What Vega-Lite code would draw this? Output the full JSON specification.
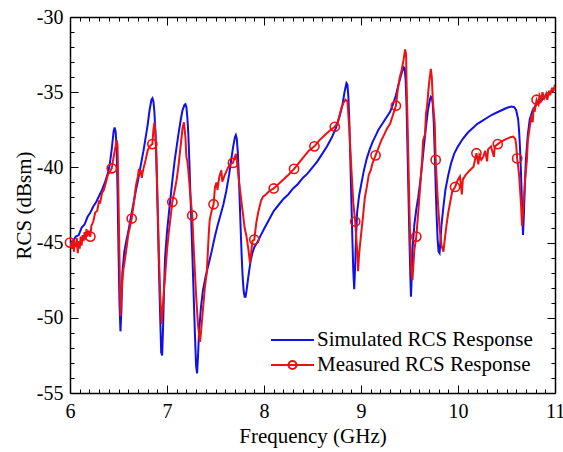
{
  "$schema": "https://vega.github.io/schema/vega-lite/v6.json",
  "width": 485,
  "height": 376,
  "autosize": {"type": "none"},
  "padding": {"left": 70, "top": 17, "right": 8, "bottom": 59},
  "background": "white",
  "config": {
    "view": {"stroke": null},
    "axis": {
      "domainColor": "black",
      "domainWidth": 1.5,
      "tickColor": "black",
      "tickWidth": 1,
      "labelFont": "Times New Roman, Liberation Serif, DejaVu Serif, serif",
      "labelFontSize": 20,
      "labelColor": "black",
      "titleFont": "Times New Roman, Liberation Serif, DejaVu Serif, serif",
      "titleFontSize": 21,
      "titleFontWeight": "normal",
      "titleColor": "black",
      "grid": false
    }
  },
  "datasets": {
    "sim": [
      {"f": 6.00, "rcs": -45.0}, {"f": 6.03, "rcs": -44.9}, {"f": 6.06, "rcs": -44.6}, {"f": 6.09, "rcs": -44.5},
      {"f": 6.12, "rcs": -44.0}, {"f": 6.15, "rcs": -43.8}, {"f": 6.18, "rcs": -43.3}, {"f": 6.21, "rcs": -43.0},
      {"f": 6.24, "rcs": -42.6}, {"f": 6.27, "rcs": -42.3}, {"f": 6.30, "rcs": -41.9}, {"f": 6.33, "rcs": -41.5},
      {"f": 6.36, "rcs": -41.0}, {"f": 6.39, "rcs": -40.4}, {"f": 6.41, "rcs": -39.8}, {"f": 6.43, "rcs": -38.8},
      {"f": 6.45, "rcs": -37.6}, {"f": 6.46, "rcs": -37.35}, {"f": 6.47, "rcs": -37.6}, {"f": 6.48, "rcs": -38.6},
      {"f": 6.49, "rcs": -41.5}, {"f": 6.50, "rcs": -45.5}, {"f": 6.51, "rcs": -49.0}, {"f": 6.52, "rcs": -50.9},
      {"f": 6.53, "rcs": -49.5}, {"f": 6.54, "rcs": -47.0}, {"f": 6.56, "rcs": -45.6}, {"f": 6.58, "rcs": -44.9},
      {"f": 6.60, "rcs": -44.3}, {"f": 6.62, "rcs": -43.6}, {"f": 6.64, "rcs": -42.9}, {"f": 6.66, "rcs": -42.2},
      {"f": 6.68, "rcs": -41.5}, {"f": 6.70, "rcs": -40.9}, {"f": 6.72, "rcs": -40.2}, {"f": 6.74, "rcs": -39.5},
      {"f": 6.76, "rcs": -38.8}, {"f": 6.78, "rcs": -38.0}, {"f": 6.80, "rcs": -37.2}, {"f": 6.82, "rcs": -36.2},
      {"f": 6.84, "rcs": -35.5}, {"f": 6.85, "rcs": -35.4}, {"f": 6.86, "rcs": -35.6}, {"f": 6.87, "rcs": -36.3},
      {"f": 6.88, "rcs": -37.6}, {"f": 6.89, "rcs": -39.5}, {"f": 6.90, "rcs": -42.0}, {"f": 6.91, "rcs": -44.8},
      {"f": 6.92, "rcs": -47.5}, {"f": 6.93, "rcs": -50.0}, {"f": 6.94, "rcs": -52.3}, {"f": 6.95, "rcs": -52.5},
      {"f": 6.96, "rcs": -50.5}, {"f": 6.97, "rcs": -48.0}, {"f": 6.98, "rcs": -46.0}, {"f": 7.00, "rcs": -44.3},
      {"f": 7.02, "rcs": -43.0}, {"f": 7.04, "rcs": -41.8}, {"f": 7.06, "rcs": -40.6}, {"f": 7.08, "rcs": -39.5},
      {"f": 7.10, "rcs": -38.6}, {"f": 7.12, "rcs": -37.7}, {"f": 7.14, "rcs": -36.9}, {"f": 7.16, "rcs": -36.2},
      {"f": 7.18, "rcs": -35.85}, {"f": 7.19, "rcs": -35.8}, {"f": 7.20, "rcs": -36.0}, {"f": 7.21, "rcs": -36.7},
      {"f": 7.22, "rcs": -37.8}, {"f": 7.23, "rcs": -39.5}, {"f": 7.24, "rcs": -41.5}, {"f": 7.25, "rcs": -43.5},
      {"f": 7.26, "rcs": -45.5}, {"f": 7.27, "rcs": -47.5}, {"f": 7.28, "rcs": -49.5}, {"f": 7.29, "rcs": -51.5},
      {"f": 7.30, "rcs": -53.2}, {"f": 7.31, "rcs": -53.7}, {"f": 7.32, "rcs": -52.5}, {"f": 7.33, "rcs": -51.0},
      {"f": 7.35, "rcs": -49.3}, {"f": 7.37, "rcs": -48.2}, {"f": 7.40, "rcs": -47.2}, {"f": 7.43, "rcs": -46.4},
      {"f": 7.46, "rcs": -45.6}, {"f": 7.49, "rcs": -44.7}, {"f": 7.52, "rcs": -43.9}, {"f": 7.55, "rcs": -43.2},
      {"f": 7.58, "rcs": -42.5}, {"f": 7.61, "rcs": -41.6}, {"f": 7.64, "rcs": -40.5}, {"f": 7.66, "rcs": -39.6},
      {"f": 7.68, "rcs": -38.7}, {"f": 7.70, "rcs": -38.0}, {"f": 7.71, "rcs": -37.85}, {"f": 7.72, "rcs": -38.1},
      {"f": 7.73, "rcs": -39.0}, {"f": 7.74, "rcs": -40.5}, {"f": 7.75, "rcs": -42.3}, {"f": 7.76, "rcs": -44.2},
      {"f": 7.77, "rcs": -45.9}, {"f": 7.78, "rcs": -47.3}, {"f": 7.79, "rcs": -48.2}, {"f": 7.80, "rcs": -48.6},
      {"f": 7.81, "rcs": -48.6}, {"f": 7.82, "rcs": -48.2}, {"f": 7.84, "rcs": -47.2}, {"f": 7.86, "rcs": -46.3},
      {"f": 7.88, "rcs": -45.7}, {"f": 7.90, "rcs": -45.3}, {"f": 7.93, "rcs": -45.0}, {"f": 7.96, "rcs": -44.6},
      {"f": 8.00, "rcs": -44.1}, {"f": 8.05, "rcs": -43.5}, {"f": 8.10, "rcs": -42.9}, {"f": 8.15, "rcs": -42.5},
      {"f": 8.20, "rcs": -42.1}, {"f": 8.25, "rcs": -41.8}, {"f": 8.30, "rcs": -41.4}, {"f": 8.35, "rcs": -41.1},
      {"f": 8.40, "rcs": -40.7}, {"f": 8.45, "rcs": -40.4}, {"f": 8.50, "rcs": -40.0}, {"f": 8.55, "rcs": -39.6},
      {"f": 8.60, "rcs": -39.1}, {"f": 8.65, "rcs": -38.6}, {"f": 8.70, "rcs": -38.0}, {"f": 8.74, "rcs": -37.4},
      {"f": 8.78, "rcs": -36.6}, {"f": 8.81, "rcs": -35.8}, {"f": 8.83, "rcs": -35.0}, {"f": 8.85, "rcs": -34.4},
      {"f": 8.86, "rcs": -34.5}, {"f": 8.87, "rcs": -35.3}, {"f": 8.88, "rcs": -37.0}, {"f": 8.89, "rcs": -39.5},
      {"f": 8.90, "rcs": -42.0}, {"f": 8.91, "rcs": -44.5}, {"f": 8.92, "rcs": -46.8}, {"f": 8.93, "rcs": -48.1},
      {"f": 8.94, "rcs": -46.5}, {"f": 8.95, "rcs": -44.5}, {"f": 8.96, "rcs": -43.0}, {"f": 8.98, "rcs": -41.9},
      {"f": 9.00, "rcs": -41.2}, {"f": 9.03, "rcs": -40.2}, {"f": 9.06, "rcs": -39.4}, {"f": 9.09, "rcs": -38.8},
      {"f": 9.12, "rcs": -38.3}, {"f": 9.15, "rcs": -37.9}, {"f": 9.18, "rcs": -37.5}, {"f": 9.21, "rcs": -37.2},
      {"f": 9.24, "rcs": -36.9}, {"f": 9.27, "rcs": -36.6}, {"f": 9.30, "rcs": -36.3}, {"f": 9.33, "rcs": -35.8},
      {"f": 9.36, "rcs": -35.2}, {"f": 9.39, "rcs": -34.4}, {"f": 9.42, "rcs": -33.7}, {"f": 9.44, "rcs": -33.35},
      {"f": 9.45, "rcs": -33.4}, {"f": 9.46, "rcs": -34.2}, {"f": 9.47, "rcs": -36.0}, {"f": 9.48, "rcs": -39.0},
      {"f": 9.49, "rcs": -42.0}, {"f": 9.50, "rcs": -45.0}, {"f": 9.51, "rcs": -47.5}, {"f": 9.515, "rcs": -48.6},
      {"f": 9.52, "rcs": -47.8}, {"f": 9.53, "rcs": -45.5}, {"f": 9.55, "rcs": -43.8}, {"f": 9.57, "rcs": -42.8},
      {"f": 9.59, "rcs": -42.0}, {"f": 9.61, "rcs": -41.0}, {"f": 9.63, "rcs": -39.8}, {"f": 9.65, "rcs": -38.5},
      {"f": 9.67, "rcs": -37.3}, {"f": 9.69, "rcs": -36.2}, {"f": 9.71, "rcs": -35.5}, {"f": 9.72, "rcs": -35.3},
      {"f": 9.73, "rcs": -35.35}, {"f": 9.74, "rcs": -35.8}, {"f": 9.75, "rcs": -37.0}, {"f": 9.76, "rcs": -39.0},
      {"f": 9.77, "rcs": -41.3}, {"f": 9.78, "rcs": -43.3}, {"f": 9.79, "rcs": -44.8}, {"f": 9.80, "rcs": -45.6},
      {"f": 9.81, "rcs": -45.7}, {"f": 9.82, "rcs": -44.8}, {"f": 9.83, "rcs": -43.8}, {"f": 9.85, "rcs": -42.6},
      {"f": 9.87, "rcs": -41.5}, {"f": 9.90, "rcs": -40.5}, {"f": 9.93, "rcs": -39.7}, {"f": 9.96, "rcs": -39.1},
      {"f": 10.00, "rcs": -38.6}, {"f": 10.05, "rcs": -38.1}, {"f": 10.10, "rcs": -37.7}, {"f": 10.15, "rcs": -37.4},
      {"f": 10.20, "rcs": -37.1}, {"f": 10.25, "rcs": -36.9}, {"f": 10.30, "rcs": -36.7}, {"f": 10.35, "rcs": -36.5},
      {"f": 10.40, "rcs": -36.35}, {"f": 10.45, "rcs": -36.2}, {"f": 10.50, "rcs": -36.05}, {"f": 10.55, "rcs": -35.95},
      {"f": 10.58, "rcs": -36.0}, {"f": 10.60, "rcs": -36.2}, {"f": 10.62, "rcs": -36.8}, {"f": 10.63, "rcs": -37.6},
      {"f": 10.64, "rcs": -38.8}, {"f": 10.65, "rcs": -40.5}, {"f": 10.66, "rcs": -42.5}, {"f": 10.67, "rcs": -44.5},
      {"f": 10.68, "rcs": -43.0}, {"f": 10.69, "rcs": -41.0}, {"f": 10.70, "rcs": -39.5}, {"f": 10.72, "rcs": -37.8},
      {"f": 10.74, "rcs": -36.8}, {"f": 10.77, "rcs": -36.2}, {"f": 10.80, "rcs": -35.9}, {"f": 10.85, "rcs": -35.6},
      {"f": 10.90, "rcs": -35.3}, {"f": 10.95, "rcs": -35.0}, {"f": 11.00, "rcs": -34.7}
    ],
    "meas": [
      {"f": 6.00, "rcs": -45.0}, {"f": 6.02, "rcs": -45.4}, {"f": 6.03, "rcs": -44.8}, {"f": 6.04, "rcs": -45.6},
      {"f": 6.05, "rcs": -45.0}, {"f": 6.06, "rcs": -45.3}, {"f": 6.07, "rcs": -44.7}, {"f": 6.08, "rcs": -45.7},
      {"f": 6.09, "rcs": -44.9}, {"f": 6.10, "rcs": -45.4}, {"f": 6.11, "rcs": -44.6}, {"f": 6.12, "rcs": -45.2},
      {"f": 6.13, "rcs": -44.5}, {"f": 6.14, "rcs": -44.9}, {"f": 6.15, "rcs": -44.3}, {"f": 6.16, "rcs": -44.8},
      {"f": 6.17, "rcs": -44.1}, {"f": 6.18, "rcs": -44.6}, {"f": 6.19, "rcs": -44.2}, {"f": 6.21, "rcs": -44.6},
      {"f": 6.22, "rcs": -43.9}, {"f": 6.24, "rcs": -43.6}, {"f": 6.26, "rcs": -43.0}, {"f": 6.28, "rcs": -42.9},
      {"f": 6.30, "rcs": -42.2}, {"f": 6.31, "rcs": -42.4}, {"f": 6.33, "rcs": -41.7}, {"f": 6.35, "rcs": -41.5},
      {"f": 6.37, "rcs": -41.0}, {"f": 6.39, "rcs": -40.5}, {"f": 6.41, "rcs": -40.3}, {"f": 6.43, "rcs": -40.06},
      {"f": 6.45, "rcs": -39.3}, {"f": 6.47, "rcs": -38.6}, {"f": 6.48, "rcs": -38.2}, {"f": 6.49, "rcs": -38.5},
      {"f": 6.50, "rcs": -42.0}, {"f": 6.51, "rcs": -46.0}, {"f": 6.52, "rcs": -49.9}, {"f": 6.53, "rcs": -48.5},
      {"f": 6.54, "rcs": -47.5}, {"f": 6.55, "rcs": -46.8}, {"f": 6.56, "rcs": -46.4}, {"f": 6.58, "rcs": -45.5},
      {"f": 6.60, "rcs": -44.5}, {"f": 6.62, "rcs": -43.9}, {"f": 6.636, "rcs": -43.4}, {"f": 6.66, "rcs": -42.3},
      {"f": 6.68, "rcs": -41.2}, {"f": 6.70, "rcs": -40.6}, {"f": 6.71, "rcs": -40.1}, {"f": 6.72, "rcs": -40.5},
      {"f": 6.73, "rcs": -40.2}, {"f": 6.74, "rcs": -40.7}, {"f": 6.75, "rcs": -40.3}, {"f": 6.76, "rcs": -40.0},
      {"f": 6.78, "rcs": -39.5}, {"f": 6.80, "rcs": -38.9}, {"f": 6.82, "rcs": -38.6}, {"f": 6.849, "rcs": -38.45},
      {"f": 6.86, "rcs": -37.5}, {"f": 6.87, "rcs": -37.0}, {"f": 6.88, "rcs": -37.6}, {"f": 6.89, "rcs": -39.0},
      {"f": 6.90, "rcs": -41.5}, {"f": 6.91, "rcs": -44.0}, {"f": 6.92, "rcs": -46.5}, {"f": 6.93, "rcs": -48.5},
      {"f": 6.945, "rcs": -50.4}, {"f": 6.96, "rcs": -49.0}, {"f": 6.97, "rcs": -48.0}, {"f": 6.98, "rcs": -47.3},
      {"f": 7.00, "rcs": -45.5}, {"f": 7.02, "rcs": -44.2}, {"f": 7.03, "rcs": -43.7}, {"f": 7.055, "rcs": -42.3},
      {"f": 7.08, "rcs": -41.5}, {"f": 7.10, "rcs": -40.8}, {"f": 7.12, "rcs": -39.8}, {"f": 7.14, "rcs": -38.6},
      {"f": 7.16, "rcs": -37.4}, {"f": 7.175, "rcs": -37.0}, {"f": 7.19, "rcs": -38.0}, {"f": 7.20, "rcs": -39.3},
      {"f": 7.21, "rcs": -39.6}, {"f": 7.22, "rcs": -40.2}, {"f": 7.24, "rcs": -41.8}, {"f": 7.26, "rcs": -43.2},
      {"f": 7.28, "rcs": -46.0}, {"f": 7.30, "rcs": -48.5}, {"f": 7.32, "rcs": -50.5}, {"f": 7.34, "rcs": -51.6},
      {"f": 7.35, "rcs": -51.0}, {"f": 7.37, "rcs": -49.5}, {"f": 7.39, "rcs": -48.0}, {"f": 7.41, "rcs": -47.0},
      {"f": 7.43, "rcs": -44.5}, {"f": 7.44, "rcs": -43.5}, {"f": 7.46, "rcs": -42.9}, {"f": 7.48, "rcs": -42.45},
      {"f": 7.495, "rcs": -41.3}, {"f": 7.51, "rcs": -41.0}, {"f": 7.52, "rcs": -41.5}, {"f": 7.54, "rcs": -40.6},
      {"f": 7.56, "rcs": -40.2}, {"f": 7.57, "rcs": -40.95}, {"f": 7.59, "rcs": -40.6}, {"f": 7.61, "rcs": -40.3},
      {"f": 7.63, "rcs": -40.0}, {"f": 7.65, "rcs": -39.8}, {"f": 7.68, "rcs": -39.7}, {"f": 7.70, "rcs": -39.3},
      {"f": 7.71, "rcs": -39.1}, {"f": 7.72, "rcs": -39.5}, {"f": 7.74, "rcs": -40.8}, {"f": 7.77, "rcs": -42.4},
      {"f": 7.80, "rcs": -44.0}, {"f": 7.82, "rcs": -44.6}, {"f": 7.84, "rcs": -45.5}, {"f": 7.856, "rcs": -46.4},
      {"f": 7.87, "rcs": -45.5}, {"f": 7.88, "rcs": -44.9}, {"f": 7.90, "rcs": -44.8}, {"f": 7.92, "rcs": -43.7},
      {"f": 7.94, "rcs": -43.0}, {"f": 7.97, "rcs": -42.2}, {"f": 7.99, "rcs": -41.95}, {"f": 8.02, "rcs": -41.8},
      {"f": 8.05, "rcs": -41.6}, {"f": 8.10, "rcs": -41.4}, {"f": 8.15, "rcs": -41.1}, {"f": 8.20, "rcs": -40.8},
      {"f": 8.25, "rcs": -40.5}, {"f": 8.31, "rcs": -40.1}, {"f": 8.36, "rcs": -39.7}, {"f": 8.41, "rcs": -39.3},
      {"f": 8.46, "rcs": -38.9}, {"f": 8.52, "rcs": -38.6}, {"f": 8.57, "rcs": -38.2}, {"f": 8.62, "rcs": -37.9},
      {"f": 8.67, "rcs": -37.6}, {"f": 8.73, "rcs": -37.3}, {"f": 8.76, "rcs": -37.0}, {"f": 8.78, "rcs": -36.5},
      {"f": 8.80, "rcs": -36.0}, {"f": 8.82, "rcs": -35.7}, {"f": 8.84, "rcs": -35.5}, {"f": 8.86, "rcs": -35.6},
      {"f": 8.88, "rcs": -37.5}, {"f": 8.90, "rcs": -40.0}, {"f": 8.92, "rcs": -42.3}, {"f": 8.94, "rcs": -43.6},
      {"f": 8.96, "rcs": -45.5}, {"f": 8.97, "rcs": -46.9}, {"f": 8.98, "rcs": -45.8}, {"f": 9.00, "rcs": -44.5},
      {"f": 9.02, "rcs": -43.3}, {"f": 9.04, "rcs": -42.0}, {"f": 9.06, "rcs": -41.3}, {"f": 9.08, "rcs": -40.5},
      {"f": 9.10, "rcs": -40.2}, {"f": 9.12, "rcs": -39.7}, {"f": 9.15, "rcs": -39.2}, {"f": 9.18, "rcs": -38.7},
      {"f": 9.21, "rcs": -38.2}, {"f": 9.24, "rcs": -37.8}, {"f": 9.27, "rcs": -37.4}, {"f": 9.30, "rcs": -37.1},
      {"f": 9.33, "rcs": -36.5}, {"f": 9.36, "rcs": -35.9}, {"f": 9.38, "rcs": -34.8}, {"f": 9.40, "rcs": -34.0},
      {"f": 9.42, "rcs": -33.5}, {"f": 9.44, "rcs": -32.8}, {"f": 9.455, "rcs": -32.15}, {"f": 9.465, "rcs": -32.5},
      {"f": 9.47, "rcs": -34.5}, {"f": 9.48, "rcs": -37.0}, {"f": 9.49, "rcs": -40.0}, {"f": 9.50, "rcs": -43.0},
      {"f": 9.51, "rcs": -45.5}, {"f": 9.52, "rcs": -47.0}, {"f": 9.53, "rcs": -47.5}, {"f": 9.54, "rcs": -46.5},
      {"f": 9.55, "rcs": -45.5}, {"f": 9.57, "rcs": -44.6}, {"f": 9.59, "rcs": -43.0}, {"f": 9.61, "rcs": -41.3},
      {"f": 9.63, "rcs": -39.5}, {"f": 9.64, "rcs": -38.2}, {"f": 9.66, "rcs": -37.8}, {"f": 9.67, "rcs": -36.4},
      {"f": 9.68, "rcs": -36.0}, {"f": 9.70, "rcs": -34.5}, {"f": 9.72, "rcs": -33.45}, {"f": 9.73, "rcs": -34.0},
      {"f": 9.74, "rcs": -35.5}, {"f": 9.76, "rcs": -37.1}, {"f": 9.77, "rcs": -39.5}, {"f": 9.79, "rcs": -42.0},
      {"f": 9.81, "rcs": -44.0}, {"f": 9.83, "rcs": -45.2}, {"f": 9.85, "rcs": -45.6}, {"f": 9.86, "rcs": -45.0},
      {"f": 9.88, "rcs": -43.9}, {"f": 9.90, "rcs": -43.0}, {"f": 9.92, "rcs": -42.3}, {"f": 9.94, "rcs": -41.6},
      {"f": 9.97, "rcs": -41.3}, {"f": 10.00, "rcs": -40.8}, {"f": 10.02, "rcs": -40.6}, {"f": 10.03, "rcs": -41.2},
      {"f": 10.04, "rcs": -41.8}, {"f": 10.05, "rcs": -40.8}, {"f": 10.08, "rcs": -40.5}, {"f": 10.12, "rcs": -40.2},
      {"f": 10.16, "rcs": -39.95}, {"f": 10.19, "rcs": -39.06}, {"f": 10.21, "rcs": -39.8}, {"f": 10.22, "rcs": -39.2},
      {"f": 10.24, "rcs": -39.5}, {"f": 10.26, "rcs": -39.3}, {"f": 10.28, "rcs": -38.9}, {"f": 10.30, "rcs": -39.6},
      {"f": 10.31, "rcs": -38.8}, {"f": 10.34, "rcs": -38.6}, {"f": 10.37, "rcs": -39.3}, {"f": 10.38, "rcs": -38.6},
      {"f": 10.41, "rcs": -38.45}, {"f": 10.44, "rcs": -38.3}, {"f": 10.47, "rcs": -38.2}, {"f": 10.50, "rcs": -38.1},
      {"f": 10.54, "rcs": -38.0}, {"f": 10.57, "rcs": -37.95}, {"f": 10.59, "rcs": -38.1}, {"f": 10.60, "rcs": -38.5},
      {"f": 10.61, "rcs": -39.4}, {"f": 10.63, "rcs": -40.5}, {"f": 10.65, "rcs": -42.5}, {"f": 10.66, "rcs": -43.9},
      {"f": 10.67, "rcs": -43.0}, {"f": 10.69, "rcs": -41.0}, {"f": 10.71, "rcs": -39.5}, {"f": 10.72, "rcs": -38.2},
      {"f": 10.74, "rcs": -37.3}, {"f": 10.76, "rcs": -36.5}, {"f": 10.77, "rcs": -37.0}, {"f": 10.78, "rcs": -36.0},
      {"f": 10.79, "rcs": -36.3}, {"f": 10.81, "rcs": -35.5}, {"f": 10.83, "rcs": -35.8}, {"f": 10.84, "rcs": -35.2},
      {"f": 10.86, "rcs": -35.5}, {"f": 10.87, "rcs": -35.0}, {"f": 10.89, "rcs": -35.4}, {"f": 10.91, "rcs": -35.1},
      {"f": 10.92, "rcs": -35.5}, {"f": 10.94, "rcs": -34.9}, {"f": 10.95, "rcs": -35.2}, {"f": 10.97, "rcs": -34.7},
      {"f": 10.98, "rcs": -35.0}, {"f": 11.00, "rcs": -34.5}
    ],
    "markers": [
      {"f": 6.00, "rcs": -45.0}, {"f": 6.21, "rcs": -44.6}, {"f": 6.43, "rcs": -40.06}, {"f": 6.636, "rcs": -43.4},
      {"f": 6.849, "rcs": -38.45}, {"f": 7.055, "rcs": -42.3}, {"f": 7.26, "rcs": -43.2}, {"f": 7.48, "rcs": -42.45},
      {"f": 7.68, "rcs": -39.7}, {"f": 7.90, "rcs": -44.8}, {"f": 8.10, "rcs": -41.4}, {"f": 8.31, "rcs": -40.1},
      {"f": 8.52, "rcs": -38.6}, {"f": 8.73, "rcs": -37.3}, {"f": 8.94, "rcs": -43.6}, {"f": 9.15, "rcs": -39.2},
      {"f": 9.36, "rcs": -35.9}, {"f": 9.57, "rcs": -44.6}, {"f": 9.77, "rcs": -39.5}, {"f": 9.97, "rcs": -41.3},
      {"f": 10.19, "rcs": -39.06}, {"f": 10.41, "rcs": -38.45}, {"f": 10.61, "rcs": -39.4}, {"f": 10.81, "rcs": -35.5}
    ]
  },
  "resolve": {"axis": {"x": "independent", "y": "independent"}},
  "layer": [
    {
      "data": {"name": "sim"},
      "mark": {"type": "line", "strokeWidth": 2, "clip": true},
      "encoding": {
        "x": {
          "field": "f", "type": "quantitative",
          "scale": {"domain": [6, 11], "nice": false, "zero": false},
          "axis": {
            "orient": "bottom",
            "title": "Frequency (GHz)",
            "values": [6,6.1,6.2,6.3,6.4,6.5,6.6,6.7,6.8,6.9,7,7.1,7.2,7.3,7.4,7.5,7.6,7.7,7.8,7.9,8,8.1,8.2,8.3,8.4,8.5,8.6,8.7,8.8,8.9,9,9.1,9.2,9.3,9.4,9.5,9.6,9.7,9.8,9.9,10,10.1,10.2,10.3,10.4,10.5,10.6,10.7,10.8,10.9,11],
            "tickSize": {"condition": {"test": "datum.value % 1 === 0", "value": -8}, "value": -4},
            "labelExpr": "datum.value % 1 === 0 ? '' + datum.value : ''",
            "labelPadding": 16,
            "labelFlush": false,
            "labelOverlap": false,
            "titlePadding": 0
          }
        },
        "y": {
          "field": "rcs", "type": "quantitative",
          "scale": {"domain": [-55, -30], "nice": false, "zero": false},
          "axis": {
            "orient": "left",
            "title": "RCS (dBsm)",
            "values": [-55,-54,-53,-52,-51,-50,-49,-48,-47,-46,-45,-44,-43,-42,-41,-40,-39,-38,-37,-36,-35,-34,-33,-32,-31,-30],
            "tickSize": {"condition": {"test": "datum.value % 5 === 0", "value": -8}, "value": -4},
            "labelExpr": "datum.value % 5 === 0 ? '-' + abs(datum.value) : ''",
            "labelPadding": 15,
            "labelFlush": false,
            "labelOverlap": false,
            "titlePadding": 2
          }
        },
        "color": {
          "datum": "Simulated RCS Response", "type": "nominal",
          "scale": {"domain": ["Simulated RCS Response", "Measured RCS Response"], "range": ["#1010e8", "#ee1111"]},
          "legend": {
            "title": null,
            "orient": "none",
            "legendX": 199.5,
            "legendY": 312,
            "padding": 0,
            "labelFont": "Times New Roman, Liberation Serif, DejaVu Serif, serif",
            "labelFontSize": 21,
            "labelColor": "black",
            "labelLimit": 0,
            "symbolSize": 400,
            "symbolStrokeWidth": 2,
            "symbolOffset": 12,
            "labelOffset": 13.5,
            "rowPadding": 4,
            "encode": {
              "symbols": {
                "update": {
                  "shape": {"signal": "datum.value === 'Measured RCS Response' ? 'M-2.15,0H2.15M0.4,0A0.4,0.4,0,1,1,-0.4,0A0.4,0.4,0,1,1,0.4,0' : 'M-2.15,0H2.15'"},
                  "fill": {"value": "transparent"}
                }
              }
            }
          }
        }
      }
    },
    {
      "data": {"name": "meas"},
      "mark": {"type": "line", "strokeWidth": 2, "clip": true},
      "encoding": {
        "x": {"field": "f", "type": "quantitative", "axis": null},
        "y": {"field": "rcs", "type": "quantitative", "axis": null},
        "color": {"datum": "Measured RCS Response", "type": "nominal"}
      }
    },
    {
      "data": {"name": "markers"},
      "mark": {"type": "point", "filled": false, "size": 85, "strokeWidth": 1.6, "opacity": 1, "clip": false},
      "encoding": {
        "x": {
          "field": "f", "type": "quantitative",
          "axis": {
            "orient": "top",
            "title": null,
            "values": [6,6.1,6.2,6.3,6.4,6.5,6.6,6.7,6.8,6.9,7,7.1,7.2,7.3,7.4,7.5,7.6,7.7,7.8,7.9,8,8.1,8.2,8.3,8.4,8.5,8.6,8.7,8.8,8.9,9,9.1,9.2,9.3,9.4,9.5,9.6,9.7,9.8,9.9,10,10.1,10.2,10.3,10.4,10.5,10.6,10.7,10.8,10.9,11],
            "tickSize": {"condition": {"test": "datum.value % 1 === 0", "value": -8}, "value": -4},
            "labels": false
          }
        },
        "y": {
          "field": "rcs", "type": "quantitative",
          "axis": {
            "orient": "right",
            "title": null,
            "values": [-55,-54,-53,-52,-51,-50,-49,-48,-47,-46,-45,-44,-43,-42,-41,-40,-39,-38,-37,-36,-35,-34,-33,-32,-31,-30],
            "tickSize": {"condition": {"test": "datum.value % 5 === 0", "value": -8}, "value": -4},
            "labels": false
          }
        },
        "color": {"datum": "Measured RCS Response", "type": "nominal"}
      }
    }
  ]
}
